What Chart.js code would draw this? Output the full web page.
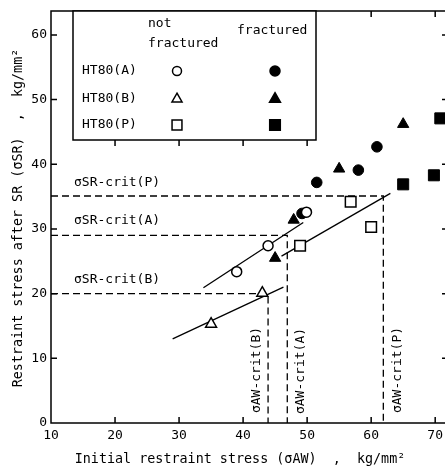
<!DOCTYPE html>
<html><head><meta charset="utf-8">
<script src="https://cdn.jsdelivr.net/npm/chart.js@4/dist/chart.umd.min.js"></script>
<style>html,body{margin:0;padding:0;background:#fff;overflow:hidden}canvas{display:block}</style>
</head><body>
<canvas id="c" width="448" height="471"></canvas>
<script>
// tick labels
const xTicks = [10, 20, 30, 40, 50, 60, 70];
const yTicks = [0, 10, 20, 30, 40, 50, 60];
// HT80(A)
const aNotFractured = [[39.0, 23.4], [43.9, 27.4], [49.9, 32.6]];
const aFractured = [[49.2, 32.4], [51.5, 37.2], [58.0, 39.1], [60.9, 42.7]];
// HT80(B)
const bNotFractured = [[35.0, 15.3], [43.0, 20.1]];
const bFractured = [[45.0, 25.5], [47.9, 31.4], [55.0, 39.3], [65.0, 46.2]];
// HT80(P)
const pNotFractured = [[48.9, 27.4], [56.8, 34.2], [60.0, 30.3]];
const pFractured = [[65.0, 36.9], [69.8, 38.3], [70.8, 47.1]];
// fitted lines
const lineA = [[33.8, 20.9], [49.4, 31.0]];
const lineB = [[29.0, 13.0], [46.3, 21.0]];
const lineP = [[46.0, 25.8], [63.0, 35.5]];
// critical values [sigmaAW-crit, sigmaSR-crit]
const critA = [46.9, 29.0];
const critB = [43.9, 20.0];
const critP = [61.9, 35.1];
const critLabels = ['σSR-crit(P)', 'σSR-crit(A)', 'σSR-crit(B)'];
const critAWLabels = ['σAW-crit(B)', 'σAW-crit(A)', 'σAW-crit(P)'];
const seriesNames = ['HT80(A)', 'HT80(B)', 'HT80(P)'];

const pts = a => a.map(p => ({x: p[0], y: p[1]}));
const critPath = c => [{x: 10, y: c[1]}, {x: c[0], y: c[1]}, {x: c[0], y: 0}];
const FONT = "'DejaVu Sans Mono', monospace";

function marker(data, style, r, filled) {
  return {type: 'scatter', data: pts(data), pointStyle: style, pointRadius: r, pointHoverRadius: r,
    backgroundColor: filled ? '#000' : '#fff', borderColor: '#000', pointBorderWidth: filled ? 1 : 1.5, showLine: false};
}
function line(data, dash) {
  return {type: 'line', data: data, borderColor: '#000', borderWidth: 1.3, borderDash: dash || [],
    pointRadius: 0, fill: false, tension: 0};
}

const deco = {
  id: 'deco',
  afterDraw(chart) {
    const {ctx, chartArea: a, scales: {x, y}} = chart;
    ctx.save();
    ctx.strokeStyle = '#000'; ctx.lineWidth = 1.5;
    ctx.strokeRect(a.left, a.top, a.right - a.left, a.bottom - a.top);
    const L = {l: 73, t: a.top, r: 316, b: 140};
    ctx.fillStyle = '#fff'; ctx.fillRect(L.l, L.t, L.r - L.l, L.b - L.t);
    ctx.strokeRect(L.l, L.t, L.r - L.l, L.b - L.t);
    ctx.beginPath();
    const tl = 6;
    xTicks.forEach((v, i) => {
      if (i === 0) return;
      const px = x.getPixelForValue(v);
      ctx.moveTo(px, a.bottom); ctx.lineTo(px, a.bottom - tl);
      const top = (px > L.l && px < L.r) ? L.b : a.top;
      ctx.moveTo(px, top); ctx.lineTo(px, top + tl);
    });
    yTicks.forEach((v, i) => {
      if (i === 0) return;
      const py = y.getPixelForValue(v);
      ctx.moveTo(a.left, py); ctx.lineTo(a.left + tl, py);
      ctx.moveTo(a.right, py); ctx.lineTo(a.right - tl, py);
    });
    ctx.stroke();

    ctx.fillStyle = '#000';
    ctx.font = '13px ' + FONT;
    ctx.textBaseline = 'middle'; ctx.textAlign = 'left';
    // legend text
    ctx.fillText('not', 148, 24);
    ctx.fillText('fractured', 148, 44);
    ctx.fillText('fractured', 237, 31);
    const ly = [71, 99, 125];
    seriesNames.forEach((n, i) => ctx.fillText(n, 82, ly[i]));
    const styles = [['circle', 4.5], ['triangle', 5.8], ['rect', 7]];
    styles.forEach((s, i) => {
      const opt = {pointStyle: s[0], radius: s[1], rotation: 0, borderWidth: 1.5};
      ctx.lineWidth = 1.5;
      ctx.fillStyle = '#fff'; ctx.strokeStyle = '#000';
      Chart.helpers.drawPoint(ctx, opt, 177, ly[i]);
      ctx.fillStyle = '#000';
      Chart.helpers.drawPoint(ctx, Object.assign({}, opt, {radius: s[1] + 0.5}), 275, ly[i]);
    });
    // crit labels
    ctx.fillStyle = '#000';
    ctx.font = '13px ' + FONT;
    ctx.textAlign = 'left';
    [[critP, 183], [critA, 221], [critB, 280]].forEach((c, i) => ctx.fillText(critLabels[i], 74, c[1]));
    ctx.textAlign = 'center';
    [[257, 370], [301, 371], [398, 370]].forEach((p, i) => {
      ctx.save(); ctx.translate(p[0], p[1]); ctx.rotate(-Math.PI / 2);
      ctx.fillText(critAWLabels[i], 0, 0); ctx.restore();
    });
    // axis titles
    ctx.font = '13.4px ' + FONT;
    ctx.fillText('Initial restraint stress (σAW)  ,  kg/mm²', 240, 460);
    ctx.save(); ctx.translate(19, 218); ctx.rotate(-Math.PI / 2);
    ctx.fillText('Restraint stress after SR (σSR)  ,  kg/mm²', 0, 0); ctx.restore();
    ctx.restore();
  }
};

new Chart(document.getElementById('c'), {
  data: {
    datasets: [
      marker(aNotFractured, 'circle', 5, false),
      marker(aFractured, 'circle', 5.3, true),
      marker(bNotFractured, 'triangle', 6.3, false),
      marker(bFractured, 'triangle', 6.5, true),
      marker(pNotFractured, 'rect', 7.5, false),
      marker(pFractured, 'rect', 7.8, true),
      line(pts(lineA)), line(pts(lineB)), line(pts(lineP)),
      line(critPath(critA), [7, 4]), line(critPath(critB), [7, 4]), line(critPath(critP), [7, 4])
    ]
  },
  options: {
    responsive: false, animation: false, devicePixelRatio: 1,
    layout: {autoPadding: false, padding: {top: 11, right: 0, left: 0, bottom: 0}},
    plugins: {legend: {display: false}, tooltip: {enabled: false}},
    scales: {
      x: {type: 'linear', min: 10, max: 72,
        afterBuildTicks: s => { s.ticks = xTicks.map(v => ({value: v})); },
        afterFit: s => { s.height = 48; s.paddingLeft = 0; s.paddingRight = 0; },
        ticks: {font: {family: FONT, size: 13}, color: '#000', padding: 5, maxRotation: 0, autoSkip: false},
        grid: {display: false, drawTicks: false}, border: {display: false}},
      y: {type: 'linear', min: 0, max: 63.7,
        afterBuildTicks: s => { s.ticks = yTicks.map(v => ({value: v})); },
        afterFit: s => { s.width = 51; s.paddingTop = 0; s.paddingBottom = 0; },
        ticks: {font: {family: FONT, size: 13}, color: '#000', padding: 4, autoSkip: false},
        grid: {display: false, drawTicks: false}, border: {display: false}}
    }
  },
  plugins: [deco]
});
</script>
</body></html>
